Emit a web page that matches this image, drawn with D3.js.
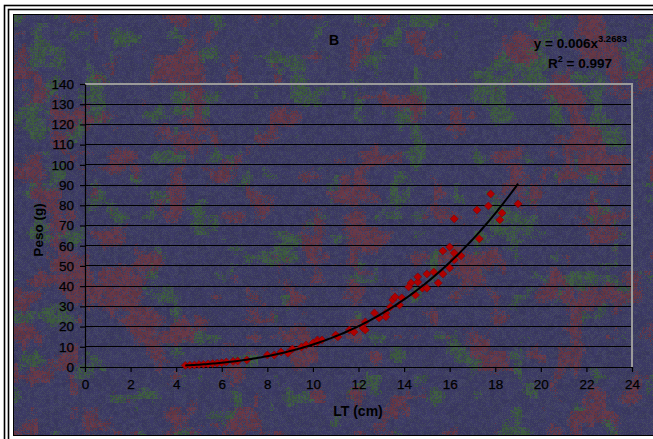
<!DOCTYPE html>
<html><head><meta charset="utf-8">
<script src="https://cdn.jsdelivr.net/npm/d3@7"></script>
<style>html,body{margin:0;padding:0;background:#fff;overflow:hidden}svg{display:block}</style>
</head><body>
<script>
// ---- data ----
const lengthCm = [4.4,4.6,4.8,5.0,5.2,5.4,5.6,5.8,6.0,6.2,6.5,6.7,7.1,8.0,8.3,8.6,8.9,9.1,9.5,9.7,10.0,10.2,10.4,10.2,11.0,11.1,11.6,11.8,12.2,12.3,12.3,12.7,12.9,13.2,13.2,13.4,13.5,13.9,13.6,13.8,14.3,14.2,14.6,14.6,14.5,14.8,15.0,15.0,15.3,15.5,15.7,15.7,16.0,16.0,16.2,16.2,16.5,16.2,17.2,17.3,17.7,17.8,18.2,18.3,19.0];
const weightG  = [0.8,0.9,1.0,1.2,1.3,1.5,1.7,1.9,2.1,2.5,2.8,3.0,3.5,5.9,5.9,7.4,6.9,8.9,9.9,10.9,11.9,13.4,13.4,12.4,15.8,14.9,18.3,17.3,19.3,22.3,18.3,26.7,24.3,26.7,24.8,29.7,33.2,34.2,34.7,30.7,41.6,39.6,42,44.6,35.6,39,39,46,47,41.6,46,57.4,59.4,49,53,56.4,55,73.3,77.7,63.4,79.7,85.6,72.8,76.2,80.7];
const xTicks = [0,2,4,6,8,10,12,14,16,18,20,22,24];
const yTicks = [0,10,20,30,40,50,60,70,80,90,100,110,120,130,140];
const fitA = 0.006, fitB = 3.2683, fitR2 = "0.997";
const fitRange = [4.4, 19.0];
const titleText = "B", xTitle = "LT (cm)", yTitle = "Peso (g)";

(function () {
const W = 653, H = 439;
const svg = d3.select("body").append("svg").attr("width", W).attr("height", H);

// ---- frame ----
svg.append("rect").attr("x",0).attr("y",0).attr("width",W).attr("height",H).attr("fill","#fff");
svg.append("rect").attr("x",4.5).attr("y",5.5).attr("width",W+10).attr("height",H+10).attr("fill","none").attr("stroke","#000").attr("stroke-width",1.6);
svg.append("rect").attr("x",8.5).attr("y",9.5).attr("width",W+10).attr("height",H+10).attr("fill","none").attr("stroke","#000").attr("stroke-width",1.6);

// ---- textured background (decorative, deterministic) ----
const bx0 = 14, by0 = 15, bw = W - 14, bh = 435 - 15;
function hash(i, j, s) { const v = Math.sin(i * 127.1 + j * 311.7 + s * 74.7) * 43758.5453; return v - Math.floor(v); }
function smooth(px, py, sc, s) {
  const fx0 = px / sc, fy0 = py / sc, x0 = Math.floor(fx0), y0 = Math.floor(fy0), fx = fx0 - x0, fy = fy0 - y0;
  const a = hash(x0,y0,s), b = hash(x0+1,y0,s), c = hash(x0,y0+1,s), d = hash(x0+1,y0+1,s);
  return (a*(1-fx)+b*fx)*(1-fy) + (c*(1-fx)+d*fx)*fy;
}
const cv = document.createElement("canvas");
cv.width = bw; cv.height = bh;
const ctx = cv.getContext("2d");
const img = ctx.createImageData(bw, bh);
const baseA = [60, 58, 100], baseB = [70, 74, 96], red = [102, 56, 70], grn = [62, 92, 64];
for (let j = 0; j < bh; j++) for (let i = 0; i < bw; i++) {
  const bi = Math.floor(i / 4), bj = Math.floor(j / 4);
  const r = smooth(bi, bj, 5, 1) * 0.7 + smooth(bi, bj, 2, 11) * 0.3;
  const g = smooth(bi, bj, 5, 7) * 0.7 + smooth(bi, bj, 2, 17) * 0.3;
  const dth = hash(i, j, 5);
  let col = ((i + j) & 1) === 0 ? baseA : (dth > 0.55 ? baseB : baseA);
  const wr = Math.max(0, Math.min(1, (r - 0.58) * 9));
  const wg = Math.max(0, Math.min(1, (g - 0.60) * 9));
  if (wr > 0 && dth < wr * (((i + j) & 1) ? 0.9 : 0.65)) col = red;
  else if (wg > 0 && dth < wg * (((i ^ j) & 1) ? 0.85 : 0.55)) col = grn;
  const k = 0.94 + hash(bi, bj, 9) * 0.1;
  const p = (j * bw + i) * 4;
  img.data[p] = col[0] * k; img.data[p+1] = col[1] * k; img.data[p+2] = col[2] * k; img.data[p+3] = 255;
}
ctx.putImageData(img, 0, 0);
svg.append("image").attr("x", bx0).attr("y", by0).attr("width", bw).attr("height", bh)
  .attr("href", cv.toDataURL()).attr("preserveAspectRatio", "none");
svg.append("rect").attr("x",bx0-0.5).attr("y",by0-0.5).attr("width",W+10).attr("height",bh+1)
  .attr("fill","none").attr("stroke","#000").attr("stroke-width",1);

// ---- scales ----
const pLeft = 85, pRight = 632, pTop = 84, pBottom = 367;
const x = d3.scaleLinear().domain([0, 24]).range([pLeft, pRight]);
const y = d3.scaleLinear().domain([0, 140]).range([pBottom, pTop]);

// gridlines
svg.append("g").selectAll("line").data(yTicks.filter(v => v > 0 && v < 140)).join("line")
  .attr("x1", pLeft).attr("x2", pRight).attr("y1", d => y(d)).attr("y2", d => y(d))
  .attr("stroke", "#000").attr("stroke-width", 1).attr("shape-rendering","crispEdges");
// plot border (top & right gray)
svg.append("path").attr("d", `M${pLeft},${y(140)}H${pRight}V${pBottom}`)
  .attr("fill","none").attr("stroke","#9a9a9a").attr("stroke-width",1.2).attr("shape-rendering","crispEdges");

// axes
const fontF = "Arial, 'Liberation Sans', sans-serif";
const yAxis = svg.append("g").attr("transform", `translate(${pLeft},0)`)
  .call(d3.axisLeft(y).tickValues(yTicks).tickSize(5).tickSizeOuter(0).tickPadding(6));
const xAxis = svg.append("g").attr("transform", `translate(0,${pBottom})`)
  .call(d3.axisBottom(x).tickValues(xTicks).tickSize(5).tickSizeOuter(0).tickPadding(7));
[yAxis, xAxis].forEach(a => {
  a.select(".domain").attr("stroke", "#000").attr("stroke-width", 1.2);
  a.selectAll(".tick line").attr("stroke", "#000").attr("stroke-width", 1.2);
  a.selectAll(".tick text").attr("fill", "#000").attr("stroke", "#000").attr("stroke-width", 0.25)
    .attr("font-family", fontF).attr("font-size", 13.5);
});

// points
const pts = lengthCm.map((v, i) => [v, weightG[i]]);
svg.append("g").selectAll("path").data(pts).join("path")
  .attr("d", d3.symbol().type(d3.symbolDiamond2).size(40))
  .attr("transform", d => `translate(${x(d[0])},${y(d[1])})`)
  .attr("fill", "#b00000").attr("stroke", "#800000").attr("stroke-width", 0.6);

// power trendline from the displayed equation
const curveX = d3.range(fitRange[0], fitRange[1] + 0.001, 0.1);
svg.append("path").datum(curveX.map(v => [v, fitA * Math.pow(v, fitB)]))
  .attr("d", d3.line().x(d => x(d[0])).y(d => y(d[1])))
  .attr("fill", "none").attr("stroke", "#000").attr("stroke-width", 2);

// texts
svg.append("text").attr("x", 334).attr("y", 45).attr("text-anchor","middle")
  .attr("font-family", fontF).attr("font-weight","bold").attr("font-size", 14).attr("fill","#000").text(titleText);
const eq = svg.append("text").attr("x", 627).attr("y", 48).attr("text-anchor","end")
  .attr("font-family", fontF).attr("font-weight","bold").attr("font-size", 13.5).attr("fill","#000");
eq.append("tspan").text(`y = ${fitA}x`);
eq.append("tspan").attr("dy", -6).attr("font-size", 9.5).text(fitB);
const r2 = svg.append("text").attr("x", 612).attr("y", 68).attr("text-anchor","end")
  .attr("font-family", fontF).attr("font-weight","bold").attr("font-size", 13.5).attr("fill","#000");
r2.append("tspan").text("R");
r2.append("tspan").attr("dy", -6).attr("font-size", 9).text("2");
r2.append("tspan").attr("dy", 6).text(` = ${fitR2}`);
svg.append("text").attr("x", 358).attr("y", 416).attr("text-anchor","middle")
  .attr("font-family", fontF).attr("font-weight","bold").attr("font-size", 14).attr("fill","#000").text(xTitle);
svg.append("text").attr("transform", "translate(43,230) rotate(-90)").attr("text-anchor","middle")
  .attr("font-family", fontF).attr("font-weight","bold").attr("font-size", 13.5).attr("fill","#000").text(yTitle);
})();
</script>
</body></html>
